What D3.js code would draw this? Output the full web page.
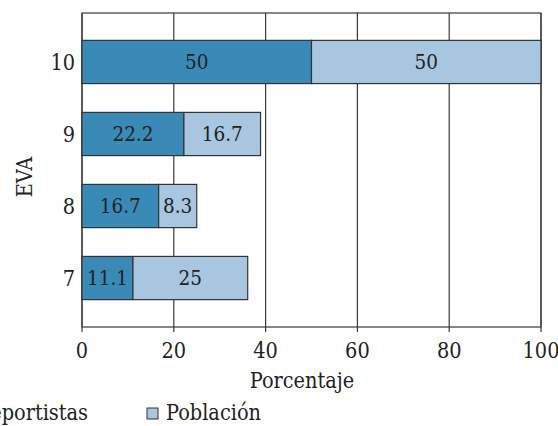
<!DOCTYPE html>
<html>
<head>
<meta charset="utf-8">
<script src="https://cdn.jsdelivr.net/npm/d3@7"></script>
<style>
  html, body { margin: 0; padding: 0; background: #fff; }
  svg { display: block; }
  svg text { font-family: 'DejaVu Serif Condensed', 'DejaVu Serif', serif; font-stretch: condensed; }
</style>
</head>
<body>
<svg id="chart" width="558" height="426"></svg>
<script>
// EVA score categories (bottom to top) and stacked percentages
const categories = ["7", "8", "9", "10"];
const deportistas = [11.1, 16.7, 22.2, 50];
const poblacion = [25, 8.3, 16.7, 50];
const xTicks = [0, 20, 40, 60, 80, 100];
const seriesNames = ["Deportistas", "Población"];
const colors = ["#3a8ab8", "#a8c6df"];

const svg = d3.select("#chart");
const plotLeft = 82, plotRight = 541, plotTop = 13, plotBottom = 327;

const x = d3.scaleLinear().domain([0, 100]).range([plotLeft, plotRight]);
const y = d3.scaleBand().domain(categories.slice().reverse())
  .range([plotTop, plotBottom]).paddingInner(0.4).paddingOuter(0.38);

// vertical grid lines
svg.append("g").selectAll("line").data(xTicks).join("line")
  .attr("x1", d => x(d)).attr("x2", d => x(d))
  .attr("y1", plotTop).attr("y2", plotBottom + 5)
  .attr("stroke", "#3a3a3a").attr("stroke-width", 1.2);

// frame
svg.append("rect").attr("x", plotLeft).attr("y", plotTop)
  .attr("width", plotRight - plotLeft).attr("height", plotBottom - plotTop)
  .attr("fill", "none").attr("stroke", "#3a3a3a").attr("stroke-width", 1.2);

const rows = categories.map((c, i) => ({ c, vals: [deportistas[i], poblacion[i]] }));
const stack = d3.stack().keys([0, 1]).value((d, k) => d.vals[k]);
const layers = stack(rows);

layers.forEach((layer, k) => {
  const g = svg.append("g");
  g.selectAll("rect").data(layer).join("rect")
    .attr("x", d => x(d[0]))
    .attr("y", d => y(d.data.c))
    .attr("width", d => x(d[1]) - x(d[0]))
    .attr("height", y.bandwidth())
    .attr("fill", colors[k])
    .attr("stroke", "#333").attr("stroke-width", 1.2);
  g.selectAll("text").data(layer).join("text")
    .attr("x", d => (x(d[0]) + x(d[1])) / 2)
    .attr("y", d => y(d.data.c) + y.bandwidth() / 2)
    .attr("dy", "0.36em")
    .attr("text-anchor", "middle")
    .attr("font-size", 20.5)
    .attr("fill", "#222")
    .text(d => d.data.vals[k]);
});

// x axis tick labels
svg.append("g").selectAll("text").data(xTicks).join("text")
  .attr("x", d => x(d)).attr("y", 358)
  .attr("text-anchor", "middle").attr("font-size", 21.5).attr("fill", "#222")
  .text(d => d);

// y axis tick labels
svg.append("g").selectAll("text").data(categories).join("text")
  .attr("x", 75).attr("y", d => y(d) + y.bandwidth() / 2)
  .attr("dy", "0.36em")
  .attr("text-anchor", "end").attr("font-size", 21.5).attr("fill", "#222")
  .text(d => d);

// axis titles
svg.append("text").attr("x", 302).attr("y", 388)
  .attr("text-anchor", "middle").attr("font-size", 21.5).attr("fill", "#222")
  .text("Porcentaje");
svg.append("text").attr("transform", "translate(32,177) rotate(-90)")
  .attr("text-anchor", "middle").attr("font-size", 21.5).attr("fill", "#222")
  .text("EVA");

// legend: first entry runs off the left edge, its label ending at x=88
const lg = svg.append("g").selectAll("g").data(seriesNames).join("g");
lg.append("text").attr("y", 420)
  .attr("font-size", 21.5).attr("fill", "#222").text(d => d);
lg.each(function (d, i) {
  const t = d3.select(this).select("text");
  const len = t.node().getComputedTextLength();
  const start = i === 0 ? 88 - len : 166;
  t.attr("x", start);
  d3.select(this).insert("rect", "text")
    .attr("x", start - 19).attr("y", 408).attr("width", 11).attr("height", 11)
    .attr("fill", colors[i]).attr("stroke", "#333").attr("stroke-width", 1);
});
</script>
</body>
</html>
